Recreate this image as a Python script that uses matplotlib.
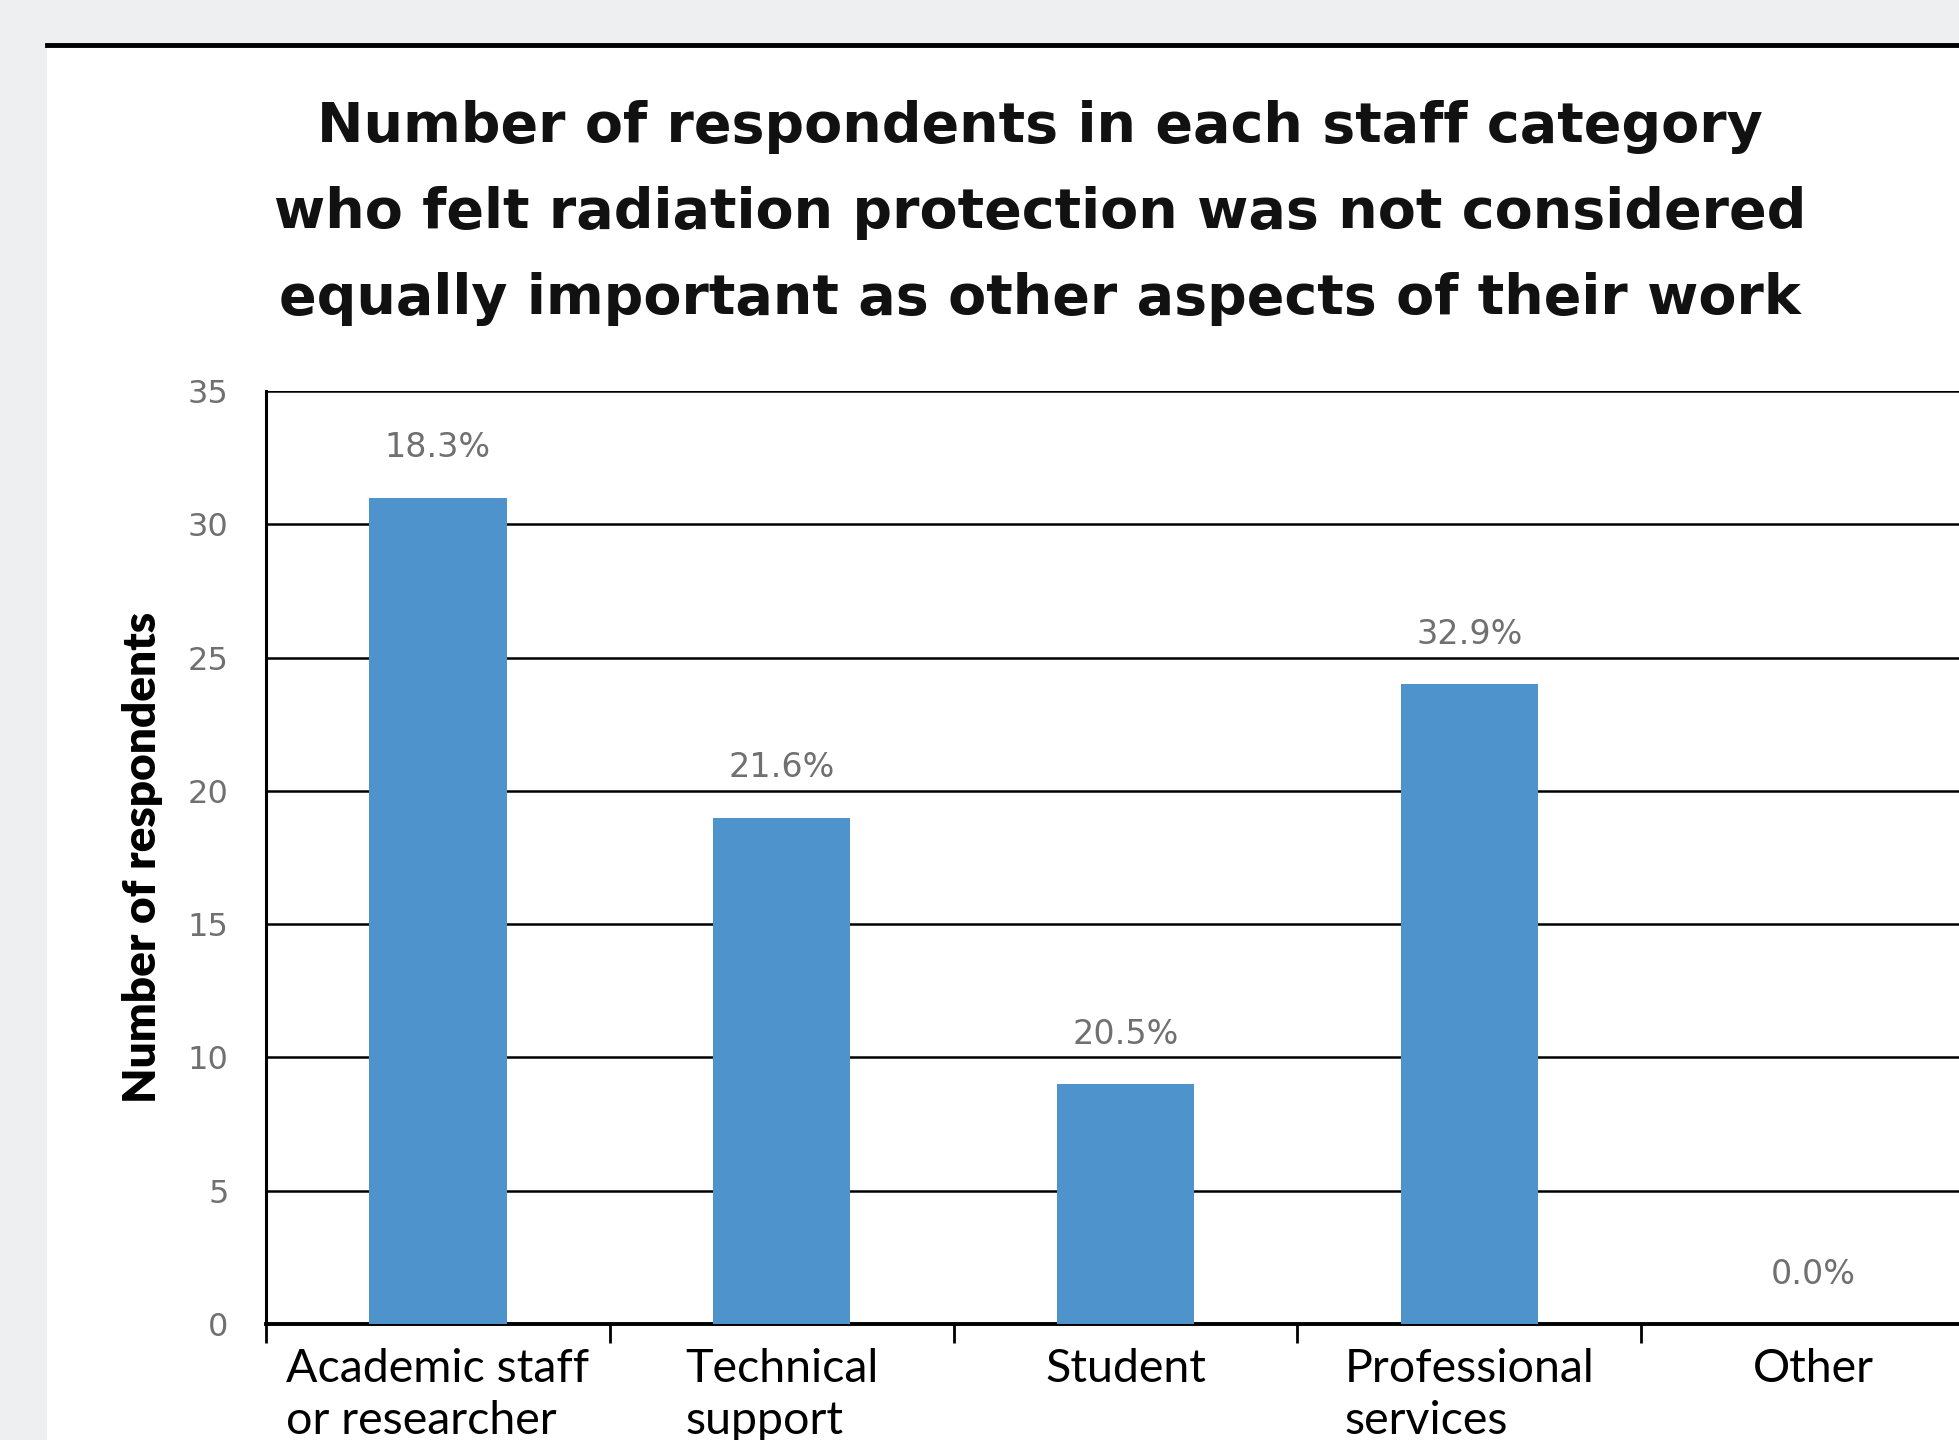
import matplotlib.pyplot as plt
from matplotlib.patches import Rectangle
from matplotlib.lines import Line2D
import numpy as np

# Data
categories = ['Academic staff\nor researcher', 'Technical\nsupport', 'Student',
              'Professional\nservices', 'Other']
counts = [31, 19, 9, 24, 0]
pct_labels = ['18.3%', '21.6%', '20.5%', '32.9%', '0.0%']
title = ('Number of respondents in each staff category\n'
         'who felt radiation protection was not considered\n'
         'equally important as other aspects of their work')

BAR_COLOR = '#4f93cd'
TICK_GRAY = '#707070'

fig = plt.figure(figsize=(19.59, 14.4), dpi=100, facecolor='#eeeff1')

# white panel with the dark rule on top
fig.patches.append(Rectangle((47 / 1959, 0), 1, 1 - 47 / 1440,
                             transform=fig.transFigure, facecolor='white',
                             edgecolor='none', zorder=-5))
fig.lines.append(Line2D([47 / 1959, 1], [1 - 45 / 1440] * 2,
                        transform=fig.transFigure, color='black', lw=3.5,
                        zorder=-4))

fig.text(1040 / 1959, 1 - 213 / 1440, title, ha='center', va='center',
         fontsize=40, fontweight='bold', family='DejaVu Sans',
         linespacing=1.75, color='#111111')

ax = fig.add_axes([266 / 1959, 116 / 1440, 1719 / 1959, 933 / 1440])
x = np.arange(len(categories))
ax.bar(x, counts, width=0.4, color=BAR_COLOR, zorder=3)

for xi, v, lab in zip(x, counts, pct_labels):
    ax.annotate(lab, (xi, v), xytext=(0, 24), textcoords='offset points',
                ha='center', va='bottom', fontsize=24, color=TICK_GRAY,
                family='DejaVu Sans')

ax.set_xlim(-0.5, len(categories) - 0.5)
ax.set_ylim(0, 35)
ax.set_yticks(range(0, 36, 5))
ax.yaxis.grid(True, color='black', lw=1.8, zorder=1)
ax.set_axisbelow(True)

ax.set_xticks(x)
ax.set_xticklabels(categories, fontsize=33.5, family='Lato', linespacing=1.3,
                   multialignment='left', va='top')
ax.set_xticks(np.arange(-0.5, len(categories), 1), minor=True)
ax.tick_params(axis='x', which='major', length=0, pad=17)
ax.tick_params(axis='x', which='minor', length=14, width=2, direction='out')
ax.tick_params(axis='y', length=0, pad=27, labelsize=23, labelcolor=TICK_GRAY)

for s in ['top', 'right']:
    ax.spines[s].set_visible(False)
ax.spines['left'].set_linewidth(2.2)
ax.spines['bottom'].set_linewidth(2.8)

ax.set_ylabel('Number of respondents', fontsize=33, fontweight='heavy',
              family='Lato', labelpad=18)

fig.savefig('out.png', dpi=100, facecolor=fig.get_facecolor())
